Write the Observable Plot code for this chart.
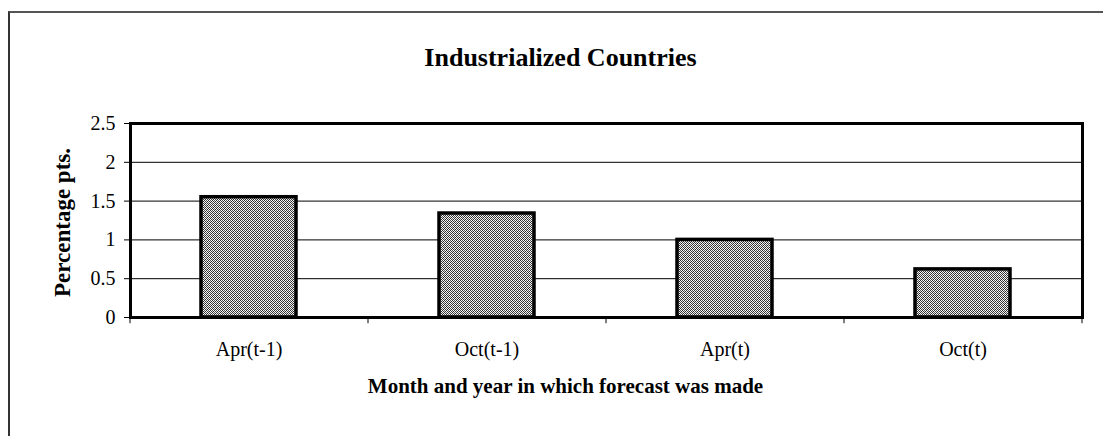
<!DOCTYPE html>
<html>
<head>
<meta charset="utf-8">
<script src="https://cdn.jsdelivr.net/npm/d3@7"></script>
<script src="https://cdn.jsdelivr.net/npm/@observablehq/plot@0.6"></script>
<style>
  html, body { margin: 0; padding: 0; background: white; }
  #wrap { position: relative; width: 1103px; height: 436px; overflow: hidden; }
  #border { position: absolute; left: 8px; top: 11px; right: -4px; bottom: -4px;
            border-left: 2px solid #333; border-top: 2px solid #555; pointer-events: none; }
</style>
</head>
<body>
<div id="wrap"><div id="border"></div></div>
<script>
const categories = ["Apr(t-1)", "Oct(t-1)", "Apr(t)", "Oct(t)"];
const values = [1.55, 1.34, 1.0, 0.62];
const yTicks = [0, 0.5, 1, 1.5, 2, 2.5];
const gridValues = [0.5, 1, 1.5, 2];
const titleText = "Industrialized Countries";
const xLabel = "Month and year in which forecast was made";
const yLabel = "Percentage pts.";

const data = categories.map((c, i) => ({cat: c, value: values[i]}));

const chart = Plot.plot({
  width: 1103,
  height: 436,
  marginLeft: 130,
  marginRight: 21,
  marginTop: 123,
  marginBottom: 119,
  style: {fontFamily: "'Liberation Serif', 'Times New Roman', serif", fontSize: "20px", background: "white", color: "black"},
  x: {domain: categories, paddingInner: 0.6, paddingOuter: 0.3},
  y: {domain: [0, 2.5]},
  marks: [
    Plot.ruleY(gridValues, {stroke: "black", strokeWidth: 1}),
    Plot.barY(data, {x: "cat", y: "value", fill: "url(#dither)", stroke: "black", strokeWidth: 3.5}),
    Plot.frame({stroke: "black", strokeWidth: 3}),
    Plot.axisY({ticks: yTicks, tickSize: 6, tickPadding: 9, tickFormat: d => String(d), fontSize: 20, label: null, stroke: "black"}),
    Plot.axisX({tickSize: 0, tickPadding: 24, fontSize: 20, label: null}),
    Plot.ruleX(categories, {x: d => d, y1: 0, y2: -0.08, dx: -119, stroke: "black"}),
    Plot.ruleX(categories.slice(-1), {x: d => d, y1: 0, y2: -0.08, dx: 119, stroke: "black"}),
    Plot.text([titleText], {frameAnchor: "top", textAnchor: "middle", dy: -76, dx: -46, fontSize: 26, fontWeight: "bold", fill: "black"}),
    Plot.text([xLabel], {frameAnchor: "bottom", textAnchor: "middle", dy: 75, dx: -41, fontSize: 21, fontWeight: "bold", fill: "black"}),
    Plot.text([yLabel], {frameAnchor: "left", textAnchor: "middle", dx: -68, dy: 2, rotate: -90, fontSize: 23, fontWeight: "bold", fill: "black"})
  ]
});

const ns = "http://www.w3.org/2000/svg";
const defs = document.createElementNS(ns, "defs");
const pat = document.createElementNS(ns, "pattern");
pat.setAttribute("id", "dither");
pat.setAttribute("width", "4");
pat.setAttribute("height", "4");
pat.setAttribute("patternUnits", "userSpaceOnUse");
const cells = [
  ["#2a2a2a", "#f4f4f4", "#555555", "#ffffff"],
  ["#ffffff", "#3a3a3a", "#e0e0e0", "#2a2a2a"],
  ["#555555", "#ffffff", "#2a2a2a", "#f4f4f4"],
  ["#e0e0e0", "#2a2a2a", "#ffffff", "#3a3a3a"]
];
cells.forEach((row, y) => row.forEach((c, x) => {
  const r = document.createElementNS(ns, "rect");
  r.setAttribute("x", x); r.setAttribute("y", y);
  r.setAttribute("width", 1); r.setAttribute("height", 1);
  r.setAttribute("fill", c);
  pat.appendChild(r);
}));
defs.appendChild(pat);
chart.insertBefore(defs, chart.firstChild);

document.getElementById("wrap").insertBefore(chart, document.getElementById("border"));
</script>
</body>
</html>
